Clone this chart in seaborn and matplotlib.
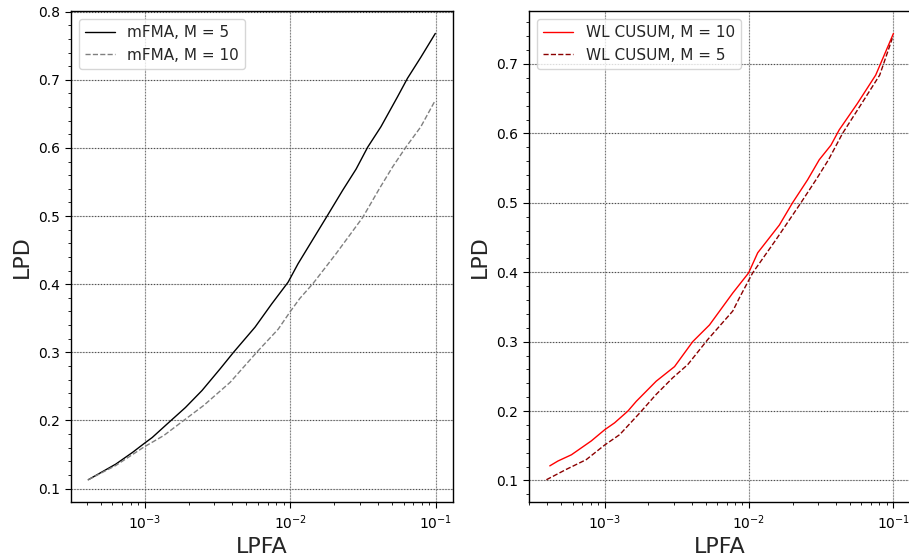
import numpy as np
import pandas as pd
import matplotlib
matplotlib.use("Agg")
import matplotlib.pyplot as plt
import matplotlib.ticker as mtick
import seaborn as sns

# curves (x = LPFA, y = LPD)
fma5_x = [4.1e-4, 6.34e-4, 8.24e-4, 9.89e-4, 1.127e-3, 1.429e-3, 1.905e-3, 2.477e-3,
          3.304e-3, 4.074e-3, 5.728e-3, 7.447e-3, 9.66e-3, 1.130e-2, 1.766e-2, 2.291e-2,
          2.831e-2, 3.396e-2, 4.188e-2, 5.445e-2, 6.368e-2, 7.870e-2, 9.9e-2]
fma5_y = [0.113, 0.136, 0.153, 0.166, 0.175, 0.195, 0.219, 0.244,
          0.276, 0.300, 0.337, 0.371, 0.403, 0.430, 0.498, 0.538,
          0.569, 0.601, 0.631, 0.675, 0.702, 0.733, 0.768]

fma10_x = [4.1e-4, 6.34e-4, 9.89e-4, 1.355e-3, 1.854e-3, 2.541e-3, 3.864e-3, 5.875e-3,
           8.26e-3, 9.93e-3, 1.161e-2, 1.432e-2, 2.065e-2, 3.141e-2, 4.083e-2, 5.035e-2,
           6.209e-2, 7.870e-2, 9.9e-2]
fma10_y = [0.113, 0.134, 0.161, 0.178, 0.200, 0.222, 0.256, 0.300,
           0.334, 0.359, 0.379, 0.401, 0.445, 0.498, 0.540, 0.572,
           0.601, 0.631, 0.670]

wl10_x = [4.17e-4, 4.75e-4, 5.89e-4, 8.09e-4, 1.0e-3, 1.172e-3, 1.449e-3, 1.656e-3,
          2.275e-3, 3.048e-3, 4.074e-3, 5.32e-3, 7.71e-3, 9.93e-3, 1.148e-2, 1.622e-2,
          2.0e-2, 2.541e-2, 3.062e-2, 3.69e-2, 4.207e-2, 5.623e-2, 7.534e-2, 0.1]
wl10_y = [0.121, 0.128, 0.137, 0.157, 0.173, 0.183, 0.200, 0.214,
          0.243, 0.264, 0.300, 0.324, 0.370, 0.399, 0.428, 0.468,
          0.500, 0.533, 0.562, 0.583, 0.605, 0.643, 0.684, 0.744]

wl5_x = [3.95e-4, 5.43e-4, 7.46e-4, 1.0e-3, 1.271e-3, 1.746e-3, 2.275e-3, 2.965e-3,
         3.767e-3, 5.176e-3, 7.71e-3, 8.57e-3, 1.059e-2, 1.538e-2, 2.286e-2, 2.904e-2,
         3.55e-2, 4.44e-2, 6.02e-2, 8.03e-2, 9.82e-2]
wl5_y = [0.101, 0.116, 0.130, 0.151, 0.166, 0.197, 0.224, 0.248,
         0.267, 0.303, 0.344, 0.363, 0.399, 0.447, 0.500, 0.533,
         0.562, 0.600, 0.643, 0.684, 0.737]

sns.set_style("whitegrid", {"axes.edgecolor": "black", "xtick.bottom": True, "ytick.left": True,
                            "xtick.direction": "out", "ytick.direction": "out",
                            "grid.color": "0.82"})
plt.rcParams["font.family"] = ["DejaVu Sans"]
plt.rcParams["xtick.minor.bottom"] = True
plt.rcParams["xtick.minor.visible"] = True

fig = plt.figure(figsize=(9.09, 5.56), dpi=100)
ax1 = fig.add_axes([0.078, 0.097, 0.420, 0.883])
ax2 = fig.add_axes([0.582, 0.097, 0.420, 0.883])

sns.lineplot(x=fma5_x, y=fma5_y, ax=ax1, color="black", lw=1, sort=False, label="mFMA, M = 5")
sns.lineplot(x=fma10_x, y=fma10_y, ax=ax1, color="gray", lw=1, ls="--", sort=False, label="mFMA, M = 10")
sns.lineplot(x=wl10_x, y=wl10_y, ax=ax2, color="red", lw=1, sort=False, label="WL CUSUM, M = 10")
sns.lineplot(x=wl5_x, y=wl5_y, ax=ax2, color="darkred", lw=1, ls="--", sort=False, label="WL CUSUM, M = 5")

for ax in (ax1, ax2):
    ax.set_xscale("log")
    ax.yaxis.set_minor_locator(mtick.AutoMinorLocator(5))
    ax.tick_params(which="both", colors="black", labelsize=10)
    ax.tick_params(which="major", length=4.5)
    ax.tick_params(which="minor", length=2.5, bottom=True)
    ax.set_xlabel("LPFA", fontsize=16)
    ax.set_ylabel("LPD", fontsize=16)
    for sp in ax.spines.values():
        sp.set_color("black")
        sp.set_linewidth(1)
    ax.legend(loc="upper left", fontsize=11, frameon=True)
    # dotted overlay on top of the light solid grid
    x0, x1 = ax.get_xlim()
    y0, y1 = ax.get_ylim()
    for t in ax.get_xticks():
        if x0 <= t <= x1:
            ax.axvline(t, color="0.45", ls=":", lw=0.8, zorder=1)
    for t in ax.get_yticks():
        if y0 <= t <= y1:
            ax.axhline(t, color="0.3", ls=":", lw=0.8, zorder=1)
    ax.set_xlim(x0, x1)
    ax.set_ylim(y0, y1)

fig.savefig("out.png", dpi=100)
